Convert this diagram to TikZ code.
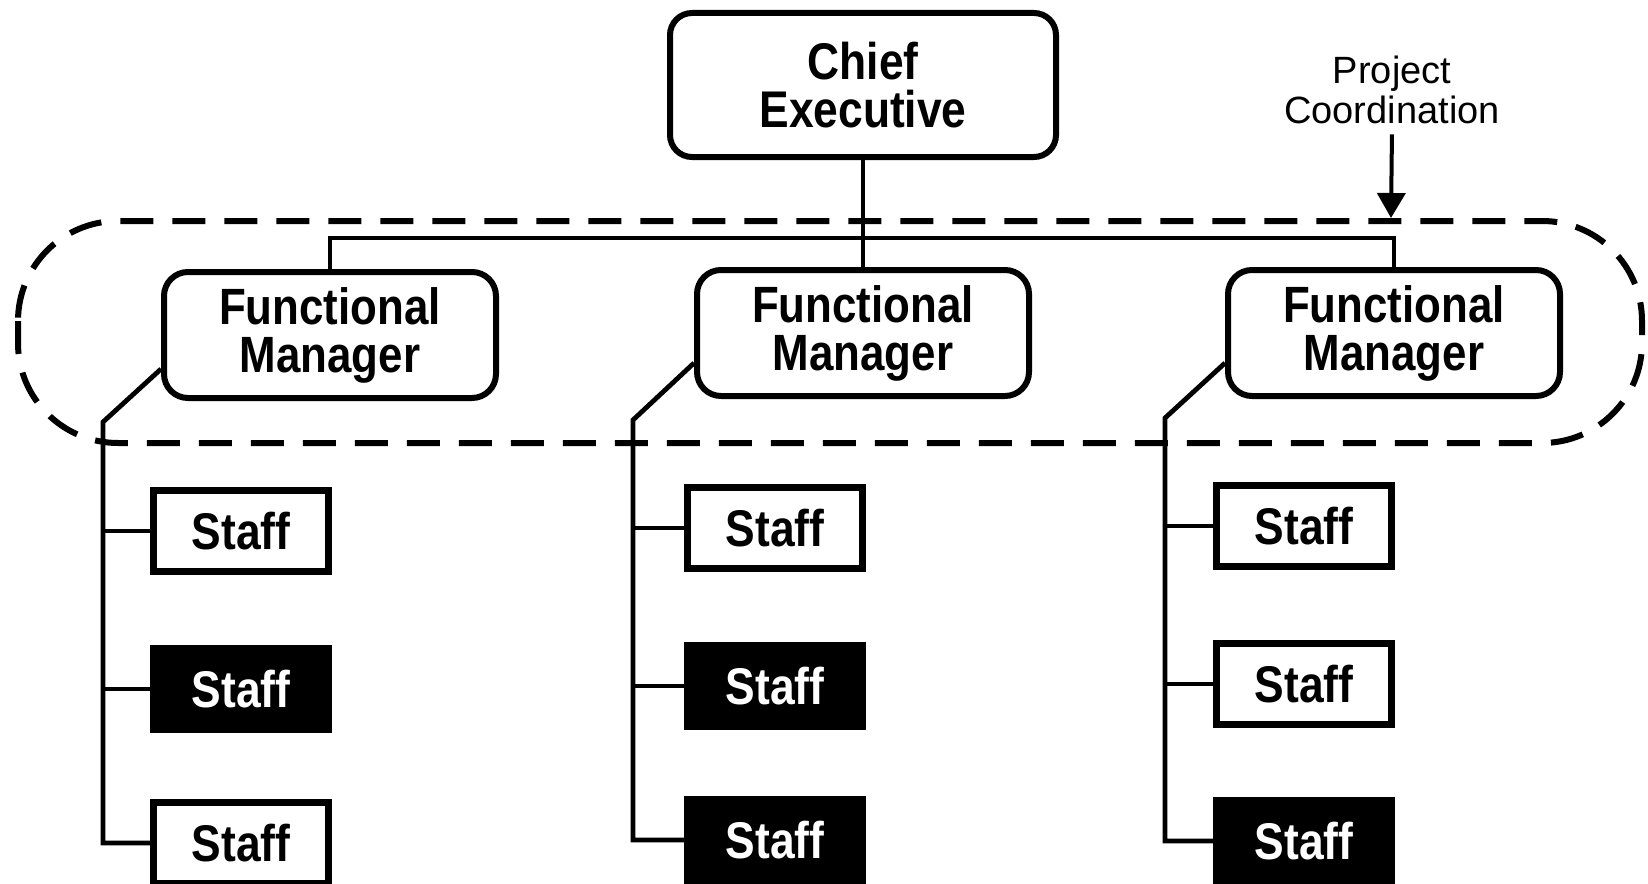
\documentclass[tikz,border=0pt]{standalone}
\usepackage{fontspec}
\setmainfont{Liberation Sans}
\newfontfamily\boxfont[FakeStretch=0.86]{Liberation Sans}
\usepackage{tikz}
\usetikzlibrary{arrows.meta,calc}

\tikzset{
  chiefbox/.style={draw, rectangle, rounded corners=11pt, line width=3pt,
    minimum width=193pt, minimum height=72pt, align=center,
    font=\boxfont\bfseries\fontsize{25.8pt}{24pt}\selectfont},
  fmbox/.style={draw, rectangle, rounded corners=12pt, line width=3pt,
    minimum width=166pt, minimum height=63pt, align=center,
    font=\boxfont\bfseries\fontsize{25.5pt}{24pt}\selectfont},
  staffbox/.style={draw, rectangle, line width=3.2pt, inner sep=0pt,
    minimum width=87.5pt, minimum height=40.5pt,
    font=\boxfont\bfseries\fontsize{25.8pt}{26pt}\selectfont},
  staffdark/.style={staffbox, fill=black, text=white},
  link/.style={line width=2.4pt},
  coordline/.style={line width=3pt, dash pattern=on 16.5pt off 9.5pt}
}

\begin{document}
\begin{tikzpicture}[x=0.5pt, y=-0.5pt]
            \useasboundingbox (0,0) rectangle (1648,883);
            \fill[white] (0,0) rectangle (1648,883);

            \node[chiefbox] (chief) at (863,85) {Chief\\Executive};

            \node[fmbox] (fm1) at (330,335) {Functional\\Manager};
            \node[fmbox] (fm2) at (863,333) {Functional\\Manager};
            \node[fmbox] (fm3) at (1394,333) {Functional\\Manager};

            \coordinate (bus) at (863,238);
            \draw[link] (chief.south) -- (bus);
            \draw[link] (fm1.north) |- (bus) -| (fm3.north);
            \draw[link] (bus) -- (fm2.north);

            \node[staffbox] (s11) at (241,531) {Staff};
            \node[staffdark] (s12) at (241,689) {Staff};
            \node[staffbox] (s13) at (241,843) {Staff};
            \node[staffbox] (s21) at (775,528) {Staff};
            \node[staffdark] (s22) at (775,686) {Staff};
            \node[staffdark] (s23) at (775,840) {Staff};
            \node[staffbox] (s31) at (1304,526) {Staff};
            \node[staffbox] (s32) at (1304,684) {Staff};
            \node[staffdark] (s33) at (1304,841) {Staff};

            \coordinate (t1) at (103,422);
            \coordinate (t2) at (633,420);
            \coordinate (t3) at (1165,418);
            \draw[link] ($(fm1.south west)+(0,-32)$) -- (t1) |- (s13.west);
            \draw[link] (t1 |- s11.west) -- (s11.west);
            \draw[link] (t1 |- s12.west) -- (s12.west);
            \draw[link] ($(fm2.south west)+(0,-36)$) -- (t2) |- (s23.west);
            \draw[link] (t2 |- s21.west) -- (s21.west);
            \draw[link] (t2 |- s22.west) -- (s22.west);
            \draw[link] ($(fm3.south west)+(0,-36)$) -- (t3) |- (s33.west);
            \draw[link] (t3 |- s31.west) -- (s31.west);
            \draw[link] (t3 |- s32.west) -- (s32.west);

            % dashed group round the functional managers
            \draw[coordline, rounded corners=50pt] (18,221) rectangle (1642,443);

            \node[align=center, inner sep=3pt,
            font=\fontsize{19pt}{20pt}\selectfont] (pc) at (1392,90) {Project\\Coordination};
            \coordinate (tip) at (1391,218);
            \draw[-{Triangle[width=14pt,length=12.5pt]}, line width=2pt, shorten <=2pt] (pc.south) -- (tip);
        \end{tikzpicture}
\end{document}
